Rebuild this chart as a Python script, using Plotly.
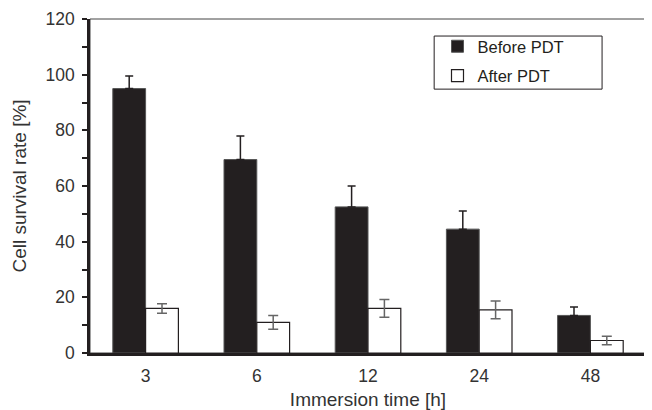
import plotly.graph_objects as go

categories = ["3", "6", "12", "24", "48"]
before = [95, 69.5, 52.5, 44.5, 13.5]
before_err = [4.5, 8.5, 7.5, 6.5, 3]
after = [16, 11, 16, 15.5, 4.5]
after_err = [1.7, 2.5, 3.2, 3.2, 1.5]
y_ticks = [0, 20, 40, 60, 80, 100, 120]

FONT = "Liberation Sans, Arial, sans-serif"
TXT = "#333333"

fig = go.Figure()
fig.add_trace(go.Bar(
    x=categories, y=before, name="Before PDT", legendgroup="b",
    marker=dict(color="#231f20", line=dict(color="#555555", width=1)),
    error_y=dict(type="data", array=before_err, arrayminus=[0]*len(before_err),
                 color="#231f20", thickness=1.5, width=4),
))
fig.add_trace(go.Bar(
    x=categories, y=after, name="After PDT", legendgroup="a",
    marker=dict(color="white", line=dict(color="#231f20", width=1.2)),
    error_y=dict(type="data", array=after_err, color="#666666", thickness=1.5, width=5),
))

fig.update_layout(
    width=652, height=410,
    margin=dict(l=82, r=14, t=11, b=65),
    paper_bgcolor="white", plot_bgcolor="white",
    barmode="group", bargap=0.41, bargroupgap=0,
    font=dict(family=FONT, size=17, color=TXT),
    showlegend=True,
    legend=dict(x=0.625, y=0.97, xanchor="left", yanchor="top",
                borderwidth=0, bgcolor="rgba(0,0,0,0)",
                font=dict(family=FONT, size=16.5, color="#231f20"), itemwidth=30,
                tracegroupgap=5),
    shapes=[
        dict(type="rect", xref="paper", yref="paper", x0=0, x1=1, y0=0, y1=1,
             line=dict(color="#444444", width=1), layer="below"),
        dict(type="rect", xref="paper", yref="paper", x0=0.619, x1=0.921, y0=0.79, y1=0.949,
             line=dict(color="#231f20", width=1), fillcolor="white", layer="above"),
    ],
)
fig.update_xaxes(
    title=dict(text="Immersion time [h]", font=dict(family=FONT, size=19, color=TXT), standoff=8),
    showline=True, linecolor="#231f20", linewidth=2.5, ticks="", showgrid=False,
    tickfont=dict(family=FONT, size=17.5, color=TXT), automargin=False, ticklabelstandoff=5,
)
fig.update_yaxes(
    title=dict(text="Cell survival rate [%]", font=dict(family=FONT, size=19, color=TXT), standoff=14),
    range=[0, 120], tickvals=y_ticks, showline=True, linecolor="#231f20", linewidth=2.5,
    ticks="outside", ticklen=5, tickwidth=1.5, tickcolor="#231f20", showgrid=False,
    minor=dict(dtick=10, ticks="outside", ticklen=5, tickwidth=1.5, tickcolor="#231f20"),
    tickfont=dict(family=FONT, size=17.5, color=TXT), zeroline=False, automargin=False,
    ticklabelstandoff=4,
)

fig.write_html("out.html")
